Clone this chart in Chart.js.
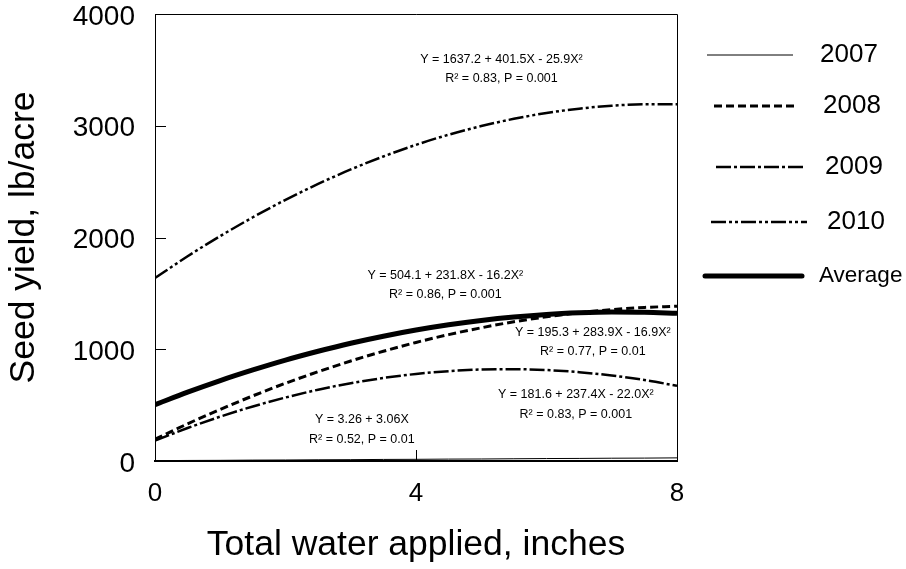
<!DOCTYPE html>
<html>
<head>
<meta charset="utf-8">
<script src="https://cdn.jsdelivr.net/npm/chart.js@4.4.1/dist/chart.umd.min.js"></script>
<style>
  html, body { margin: 0; padding: 0; background: #fff; }
  #wrap { width: 906px; height: 569px; }
</style>
</head>
<body>
<div id="wrap"><canvas id="yieldChart" width="906" height="569"></canvas></div>
<script>
// ─── DATA ────────────────────────────────────────────────────
const waterApplied = [0, 0.5, 1, 1.5, 2, 2.5, 3, 3.5, 4, 4.5, 5, 5.5, 6, 6.5, 7, 7.5, 8];

const yield2007 = [3, 5, 6, 8, 9, 11, 12, 14, 15, 17, 18, 20, 22, 23, 25, 26, 28];
const yield2008 = [195, 333, 462, 583, 696, 799, 895, 982, 1061, 1131, 1192, 1246, 1290, 1327, 1355, 1374, 1385];
const yield2009 = [182, 295, 397, 488, 568, 638, 696, 743, 779, 804, 819, 822, 814, 795, 765, 725, 673];
const yield2010 = [1637, 1832, 2013, 2181, 2337, 2479, 2609, 2725, 2829, 2920, 2997, 3062, 3114, 3153, 3179, 3192, 3192];
const yieldAverage = [504, 616, 720, 815, 903, 982, 1054, 1117, 1172, 1219, 1258, 1289, 1312, 1326, 1333, 1331, 1322];

const seriesNames = ['2007', '2008', '2009', '2010', 'Average'];
const xTicks = [0, 4, 8];
const yTicks = [0, 1000, 2000, 3000, 4000];

// regression labels: [x, y] anchor in data units, then the two text lines
const equationLabels = [
    { at: [5.31, 3595], lines: ['Y = 1637.2 + 401.5X - 25.9X²', 'R² = 0.83, P = 0.001'] },
    { at: [4.45, 1660], lines: ['Y = 504.1 + 231.8X - 16.2X²', 'R² = 0.86, P = 0.001'] },
    { at: [6.71, 1152], lines: ['Y = 195.3 + 283.9X - 16.9X²', 'R² = 0.77, P = 0.01'] },
    { at: [6.45, 592], lines: ['Y = 181.6 + 237.4X - 22.0X²', 'R² = 0.83, P = 0.001'] },
    { at: [3.17, 368], lines: ['Y = 3.26 + 3.06X', 'R² = 0.52, P = 0.01'] }
];

const FONT = "'Liberation Sans', Arial, sans-serif";

function toPoints(ys) {
    return ys.map((y, i) => ({ x: waterApplied[i], y }));
}

// ─── PLUGINS ─────────────────────────────────────────────────

// box around the plot area plus short inward tick marks
const frame = {
    id: 'frame',
    afterDatasetsDraw(chart) {
        const { ctx, chartArea: a, scales } = chart;
        ctx.save();
        ctx.strokeStyle = '#000';
        ctx.lineWidth = 1;
        ctx.beginPath();
        ctx.moveTo(a.left, a.top + 0.5);
        ctx.lineTo(a.right + 0.5, a.top + 0.5);
        ctx.lineTo(a.right + 0.5, a.bottom);
        // y ticks pointing into the plot
        yTicks.slice(1, -1).forEach(v => {
            const py = Math.round(scales.y.getPixelForValue(v)) + 0.5;
            ctx.moveTo(a.left, py);
            ctx.lineTo(a.left + 11, py);
        });
        // x ticks pointing up
        xTicks.slice(1, -1).forEach(v => {
            const px = Math.round(scales.x.getPixelForValue(v)) + 0.5;
            ctx.moveTo(px, a.bottom);
            ctx.lineTo(px, a.bottom - 11);
        });
        ctx.stroke();
        ctx.restore();
    }
};

// equation text placed through the chart's scales
const equations = {
    id: 'equations',
    afterDatasetsDraw(chart) {
        const { ctx, scales } = chart;
        ctx.save();
        ctx.fillStyle = '#000';
        ctx.font = '12.5px ' + FONT;
        ctx.textAlign = 'center';
        ctx.textBaseline = 'middle';
        equationLabels.forEach(lbl => {
            const px = scales.x.getPixelForValue(lbl.at[0]);
            const py = scales.y.getPixelForValue(lbl.at[1]);
            lbl.lines.forEach((t, i) => ctx.fillText(t, px, py + i * 19.5));
        });
        ctx.restore();
    }
};

// legend on the right with line samples
const sideLegend = {
    id: 'sideLegend',
    afterDraw(chart) {
        const { ctx } = chart;
        const rows = [
            { x1: 707, x2: 793, y: 55, tx: 820, size: 26 },
            { x1: 714, x2: 798, y: 106, tx: 823, size: 26 },
            { x1: 716, x2: 804, y: 167, tx: 825, size: 26 },
            { x1: 711, x2: 807, y: 222, tx: 827, size: 26 },
            { x1: 705, x2: 802, y: 276, tx: 819, size: 22.5 }
        ];
        ctx.save();
        chart.data.datasets.forEach((ds, i) => {
            const r = rows[i];
            ctx.strokeStyle = '#000';
            ctx.lineWidth = ds.borderWidth;
            ctx.lineCap = i === 4 ? 'round' : 'butt';
            ctx.setLineDash(ds.borderDash || []);
            ctx.beginPath();
            ctx.moveTo(r.x1, r.y);
            ctx.lineTo(r.x2, r.y);
            ctx.stroke();
            ctx.setLineDash([]);
            ctx.fillStyle = '#000';
            ctx.font = r.size + 'px ' + FONT;
            ctx.textAlign = 'left';
            ctx.textBaseline = 'middle';
            ctx.fillText(ds.label, r.tx, r.y);
        });
        ctx.restore();
    }
};

// ─── CHART ───────────────────────────────────────────────────
const lineStyles = [
    { borderWidth: 1, borderDash: [] },
    { borderWidth: 3, borderDash: [8, 4] },
    { borderWidth: 2.5, borderDash: [15, 3, 3, 3] },
    { borderWidth: 2.5, borderDash: [15, 3, 3, 3, 3, 3] },
    { borderWidth: 5, borderDash: [] }
];
const seriesValues = [yield2007, yield2008, yield2009, yield2010, yieldAverage];

new Chart(document.getElementById('yieldChart'), {
    type: 'line',
    data: {
        datasets: seriesNames.map((name, i) => ({
            label: name,
            data: toPoints(seriesValues[i]),
            borderColor: '#000',
            borderWidth: lineStyles[i].borderWidth,
            borderDash: lineStyles[i].borderDash,
            pointRadius: 0,
            fill: false,
            cubicInterpolationMode: 'monotone'
        }))
    },
    options: {
        responsive: false,
        animation: false,
        layout: { padding: { top: 14, right: 229, left: 0, bottom: 0 } },
        plugins: {
            legend: { display: false },
            tooltip: { enabled: false }
        },
        scales: {
            x: {
                type: 'linear',
                min: 0,
                max: 8,
                afterBuildTicks: axis => { axis.ticks = xTicks.map(v => ({ value: v })); },
                afterFit: axis => {
                    axis.height = 108;
                    axis.paddingLeft = 0;
                    axis.paddingRight = 0;
                },
                border: { display: true, color: '#000', width: 2 },
                grid: { drawOnChartArea: false, drawTicks: false },
                ticks: {
                    color: '#000',
                    font: { family: FONT, size: 26 },
                    padding: 17,
                    maxRotation: 0,
                    callback: v => String(v)
                },
                title: {
                    display: true,
                    text: 'Total water applied, inches',
                    color: '#000',
                    font: { family: FONT, size: 35.5 },
                    padding: { top: 0, bottom: 2 }
                }
            },
            y: {
                min: 0,
                max: 4000,
                afterBuildTicks: axis => { axis.ticks = yTicks.map(v => ({ value: v })); },
                afterFit: axis => {
                    axis.width = 155;
                    axis.paddingTop = 0;
                    axis.paddingBottom = 0;
                },
                border: { display: true, color: '#000', width: 1 },
                grid: { drawOnChartArea: false, drawTicks: false },
                ticks: {
                    color: '#000',
                    font: { family: FONT, size: 28 },
                    padding: 20,
                    labelOffset: 3,
                    callback: v => String(v)
                },
                title: {
                    display: true,
                    text: 'Seed yield, lb/acre',
                    color: '#000',
                    font: { family: FONT, size: 35.5 },
                    padding: { top: 3, bottom: 0 }
                }
            }
        }
    },
    plugins: [frame, equations, sideLegend]
});
</script>
</body>
</html>
